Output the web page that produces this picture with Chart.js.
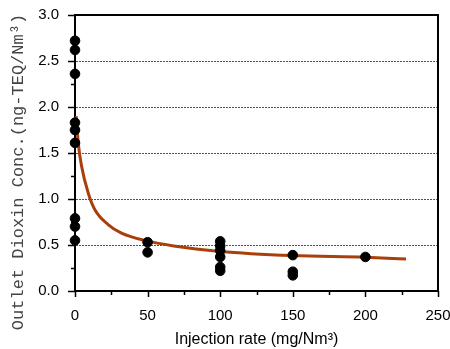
<!DOCTYPE html>
<html>
<head>
<meta charset="utf-8">
<script src="https://cdn.jsdelivr.net/npm/chart.js@4/dist/chart.umd.min.js"></script>
<style>
  html, body { margin: 0; padding: 0; background: #fff; }
  #wrap { width: 450px; height: 349px; position: relative; }
</style>
</head>
<body>
<div id="wrap"><canvas id="dioxinChart"></canvas></div>
<script>
// measured points (injection rate, outlet conc.)
const injRate = [0, 0, 0, 0, 0, 0, 0, 0, 0, 50, 50, 100, 100, 100, 100, 100, 100, 150, 150, 150, 200];
const outletConc = [2.72, 2.62, 2.36, 1.83, 1.75, 1.61, 0.79, 0.70, 0.55, 0.53, 0.42, 0.54, 0.49, 0.44, 0.37, 0.26, 0.22, 0.39, 0.21, 0.17, 0.37];

// fitted curve
const fitX = [0.8, 2.3, 4.6, 9.2, 13.8, 23, 32, 48, 68, 100, 150, 200, 228];
const fitY = [1.90, 1.60, 1.35, 1.06, 0.88, 0.72, 0.63, 0.55, 0.49, 0.43, 0.385, 0.366, 0.348];

const xTicks = [0, 50, 100, 150, 200, 250];
const yTicks = [0.0, 0.5, 1.0, 1.5, 2.0, 2.5, 3.0];
const gridAt = [0.5, 1.0, 1.5, 2.0, 2.5];

const yTitle = "Outlet Dioxin Conc.(ng-TEQ/Nm³)";
const xTitle = "Injection rate (mg/Nm³)";

document.addEventListener("DOMContentLoaded", () => {
  const isMajor = (v, step) => Math.abs(v / step - Math.round(v / step)) < 1e-6;

  // dotted grid, ticks, frame and the rotated y title
  const framePlugin = {
    id: "frame",
    beforeDatasetsDraw(chart) {
      const { ctx, chartArea: a, scales: { x, y } } = chart;
      ctx.save();

      ctx.strokeStyle = "#3c3cff";
      ctx.lineWidth = 1;
      ctx.setLineDash([2, 1]);
      ctx.beginPath();
      gridAt.forEach(v => {
        const py = Math.round(y.getPixelForValue(v)) + 0.5;
        ctx.moveTo(a.left + 1, py);
        ctx.lineTo(a.right, py);
      });
      ctx.stroke();
      ctx.setLineDash([]);

      ctx.strokeStyle = "#000";
      ctx.lineWidth = 2;
      ctx.beginPath();
      ctx.moveTo(a.left - 1, a.top);
      ctx.lineTo(a.right, a.top);
      ctx.lineTo(a.right, a.bottom);
      ctx.stroke();

      ctx.lineWidth = 1.5;
      ctx.beginPath();
      y.ticks.forEach(t => {
        const py = Math.round(y.getPixelForValue(t.value)) + 0.5;
        const len = isMajor(t.value, 0.5) ? 7 : 4;
        ctx.moveTo(a.left, py);
        ctx.lineTo(a.left - len, py);
      });
      x.ticks.forEach(t => {
        const px = Math.round(x.getPixelForValue(t.value)) + 0.5;
        const len = isMajor(t.value, 50) ? 6 : 4;
        ctx.moveTo(px, a.bottom);
        ctx.lineTo(px, a.bottom + len);
      });
      ctx.stroke();

      ctx.translate(18, 172);
      ctx.rotate(-Math.PI / 2);
      ctx.fillStyle = "#444";
      ctx.font = "17px 'Liberation Mono'";
      ctx.textAlign = "center";
      ctx.textBaseline = "middle";
      ctx.fillText(yTitle, 0, 0);
      ctx.restore();
    }
  };

  new Chart(document.getElementById("dioxinChart"), {
    type: "scatter",
    data: {
      datasets: [
        {
          label: "measured",
          data: injRate.map((v, i) => ({ x: v, y: outletConc[i] })),
          backgroundColor: "#000",
          borderColor: "#000",
          pointRadius: 4.8,
          pointHoverRadius: 4.8,
          clip: false
        },
        {
          type: "line",
          label: "fit",
          data: fitX.map((v, i) => ({ x: v, y: fitY[i] })),
          borderColor: "#a8400c",
          borderWidth: 3,
          pointRadius: 0,
          fill: false,
          cubicInterpolationMode: "monotone",
          clip: false
        }
      ]
    },
    options: {
      responsive: true,
      maintainAspectRatio: false,
      animation: false,
      layout: { padding: { left: 0, top: 15, right: 12, bottom: 0 } },
      plugins: { legend: { display: false }, tooltip: { enabled: false } },
      scales: {
        x: {
          type: "linear",
          min: 0,
          max: 250,
          afterBuildTicks: s => {
            s.ticks = [];
            for (let v = 0; v <= 250; v += 25) s.ticks.push({ value: v });
          },
          ticks: {
            autoSkip: false,
            maxRotation: 0,
            padding: 8,
            color: "#000",
            font: { family: "'Liberation Sans', Arial", size: 15 },
            callback: v => xTicks.includes(v) ? String(v) : ""
          },
          grid: { display: false },
          border: { display: true, color: "#000", width: 2 },
          title: {
            display: true,
            text: xTitle,
            color: "#000",
            font: { family: "'Liberation Sans', Arial", size: 16 },
            padding: { top: 4, bottom: 0 }
          },
          afterFit: s => { s.height = 58; s.paddingLeft = 0; s.paddingRight = 0; }
        },
        y: {
          type: "linear",
          min: 0,
          max: 3,
          afterBuildTicks: s => {
            s.ticks = [];
            for (let v = 0; v <= 3.0001; v += 0.25) s.ticks.push({ value: Math.round(v * 100) / 100 });
          },
          ticks: {
            autoSkip: false,
            padding: 8,
            color: "#000",
            font: { family: "'Liberation Sans', Arial", size: 15 },
            callback: v => yTicks.some(t => Math.abs(t - v) < 1e-6) ? v.toFixed(1) : ""
          },
          grid: { display: false },
          border: { display: true, color: "#000", width: 2 },
          afterFit: s => { s.width = 75; s.paddingTop = 0; s.paddingBottom = 0; }
        }
      }
    },
    plugins: [framePlugin]
  });
});
</script>
</body>
</html>
